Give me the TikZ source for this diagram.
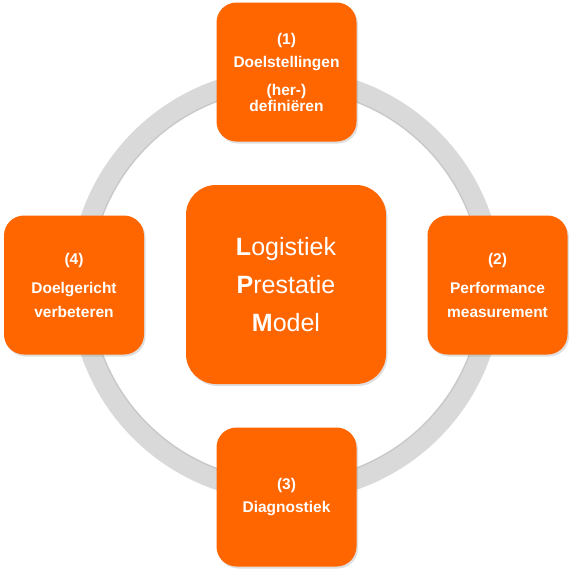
\documentclass[tikz,border=0pt]{standalone}
\usepackage{fontspec}
\setmainfont{Liberation Sans}
\usetikzlibrary{shadows}
\definecolor{lpmorange}{HTML}{FF6600}
\definecolor{ringgray}{HTML}{D9D9D9}
\begin{document}
\begin{tikzpicture}[x=1pt,y=-1pt,
	stap/.style={fill=lpmorange, rounded corners=20pt, minimum width=140pt, minimum height=139pt,
		text=white, align=center, font=\fontsize{15.5}{16}\selectfont\bfseries,
		execute at begin node={\rule{0pt}{15.5pt}},
		drop shadow={shadow xshift=1.5pt, shadow yshift=-2pt, opacity=0.25}},
	model/.style={fill=lpmorange, rounded corners=30pt, minimum width=200pt, minimum height=199pt,
		text=white, align=center, font=\fontsize{25}{25}\selectfont,
		drop shadow={shadow xshift=1.5pt, shadow yshift=-2pt, opacity=0.25}}]
	
	\useasboundingbox (0,0) rectangle (569,573);
	
	% Draw the ring behind the steps
	\draw[ringgray, line width=21pt] (286,285) circle[radius=206];
	\draw[black, opacity=0.08, line width=1.5pt] (286,285) circle[radius=196];
	
	% Draw the four steps
	\node[stap] (doel) at (286.5,72) {(1)\\[7pt]Doelstellingen\\[12pt](her-)\\definiëren};
	\node[stap] (meting) at (497.5,285) {(2)\\[13pt]Performance\\[8pt]measurement};
	\node[stap] (diagnose) at (286.5,497) {(3)\\[7pt]Diagnostiek};
	\node[stap] (verbeter) at (74,285) {(4)\\[13pt]Doelgericht\\[8pt]verbeteren};
	
	% Draw the model in the middle
	\node[model] (lpm) at (286,284.5) {\textbf{L}ogistiek\\[13pt]\textbf{P}restatie\\[13pt]\textbf{M}odel};
	
\end{tikzpicture}
\end{document}
